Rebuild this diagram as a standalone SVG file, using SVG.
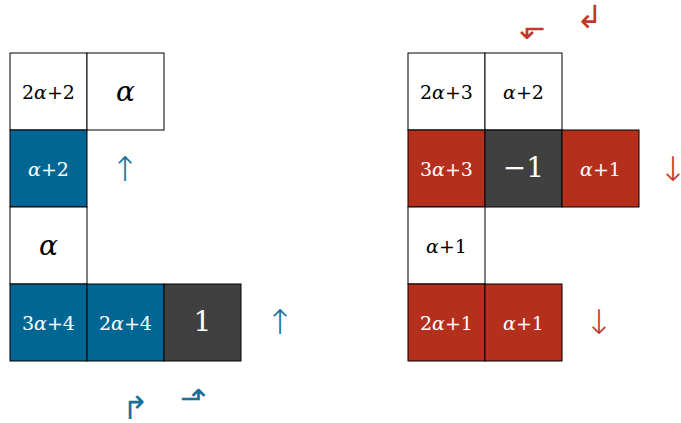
<svg xmlns="http://www.w3.org/2000/svg" width="681" height="423" viewBox="0 0 681 423">
  <style>
    .cell { stroke: #000; stroke-width: 1; }
    .w { fill: #fff; }
    .b { fill: #006794; }
    .r { fill: #b52f1d; }
    .g { fill: #404040; }
    text { font-family: "DejaVu Serif", "Liberation Serif", serif; text-anchor: middle; dominant-baseline: central; }
    .s { font-size: 19px; }
    .l { font-size: 28px; }
    .dk { fill: #000; }
    .lt { fill: #fff; }
    .al { font-style: italic; }
    .ab { fill: #1a6f96; }
    .ar { fill: #c0392b; }
    .arrow { font-family: "DejaVu Sans", sans-serif; font-weight: 200; }
  </style>

  <!-- left tableau -->
  <g id="L-2a2"><rect class="cell w" x="10" y="53" width="77" height="77"/><text class="s dk" x="48.5" y="92">2<tspan class="al">α</tspan>+2</text></g>
  <g id="L-a-top"><rect class="cell w" x="87" y="53" width="77" height="77"/><text class="l dk al" x="125.5" y="91">α</text></g>
  <g id="L-a2"><rect class="cell b" x="10" y="130" width="77" height="77"/><text class="s lt" x="48.5" y="169"><tspan class="al">α</tspan>+2</text></g>
  <g id="L-a-mid"><rect class="cell w" x="10" y="207" width="77" height="77"/><text class="l dk al" x="48.5" y="245">α</text></g>
  <g id="L-3a4"><rect class="cell b" x="10" y="284" width="77" height="77"/><text class="s lt" x="48.5" y="323">3<tspan class="al">α</tspan>+4</text></g>
  <g id="L-2a4"><rect class="cell b" x="87" y="284" width="77" height="77"/><text class="s lt" x="125.5" y="323">2<tspan class="al">α</tspan>+4</text></g>
  <g id="L-1"><rect class="cell g" x="164" y="284" width="77" height="77"/><text class="l lt" x="202.5" y="321">1</text></g>

  <!-- right tableau -->
  <g id="R-2a3"><rect class="cell w" x="408" y="53" width="77" height="77"/><text class="s dk" x="446.5" y="92">2<tspan class="al">α</tspan>+3</text></g>
  <g id="R-a2"><rect class="cell w" x="485" y="53" width="77" height="77"/><text class="s dk" x="523.5" y="92"><tspan class="al">α</tspan>+2</text></g>
  <g id="R-3a3"><rect class="cell r" x="408" y="130" width="77" height="77"/><text class="s lt" x="446.5" y="169">3<tspan class="al">α</tspan>+3</text></g>
  <g id="R-m1"><rect class="cell g" x="485" y="130" width="77" height="77"/><text class="l lt" x="523.5" y="167">−1</text></g>
  <g id="R-a1-top"><rect class="cell r" x="562" y="130" width="77" height="77"/><text class="s lt" x="600.5" y="169"><tspan class="al">α</tspan>+1</text></g>
  <g id="R-a1-mid"><rect class="cell w" x="408" y="207" width="77" height="77"/><text class="s dk" x="446.5" y="246"><tspan class="al">α</tspan>+1</text></g>
  <g id="R-2a1"><rect class="cell r" x="408" y="284" width="77" height="77"/><text class="s lt" x="446.5" y="323">2<tspan class="al">α</tspan>+1</text></g>
  <g id="R-a1-bot"><rect class="cell r" x="485" y="284" width="77" height="77"/><text class="s lt" x="523.5" y="323"><tspan class="al">α</tspan>+1</text></g>

  <!-- direction marks -->
  <g id="marks">
    <text class="ab arrow" x="125" y="169" font-size="34">↑</text>
    <text class="ab arrow" x="280" y="322" font-size="34">↑</text>
    <text class="ab arrow" x="135" y="408" font-size="32">↱</text>
    <text class="ab arrow" x="193" y="398" font-size="32">⬏</text>
    <text class="ar arrow" x="673" y="169" font-size="34">↓</text>
    <text class="ar arrow" x="599" y="322" font-size="34">↓</text>
    <text class="ar arrow" x="532" y="28" font-size="32">⬐</text>
    <text class="ar arrow" x="589" y="17" font-size="32">↲</text>
  </g>
</svg>
